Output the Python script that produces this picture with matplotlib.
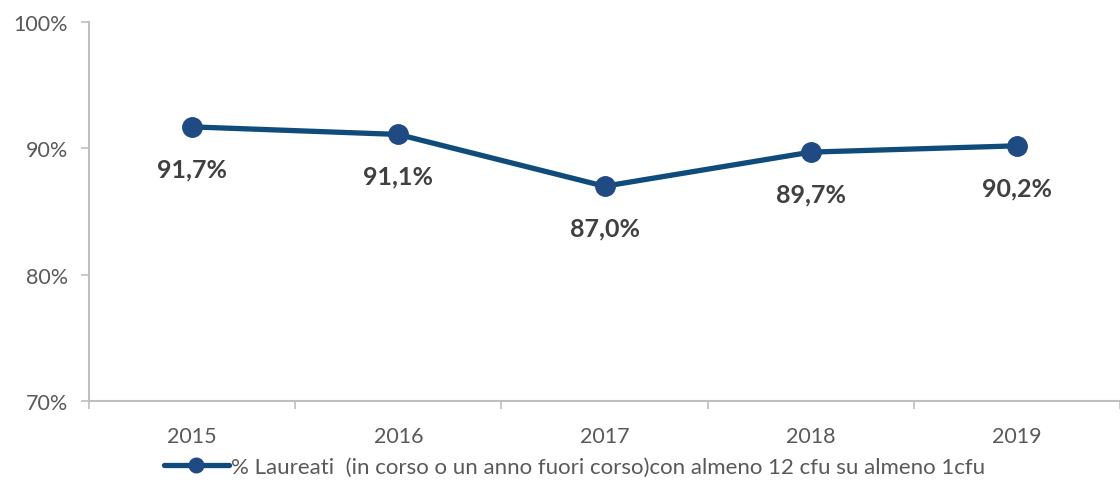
import matplotlib
matplotlib.use("Agg")
import matplotlib.pyplot as plt
from matplotlib.ticker import FixedLocator, PercentFormatter

# data
years = ["2015", "2016", "2017", "2018", "2019"]
values = [91.7, 91.1, 87.0, 89.7, 90.2]
labels = ["91,7%", "91,1%", "87,0%", "89,7%", "90,2%"]
series_name = "% Laureati  (in corso o un anno fuori corso)con almeno 12 cfu su almeno 1cfu"

plt.rcParams["font.family"] = ["Lato", "DejaVu Sans"]

fig = plt.figure(figsize=(11.2, 4.85), dpi=100)
ax = fig.add_axes([0.0795, 0.171, 0.9205, 0.7816])

x = list(range(len(years)))
ax.plot(x, values, color="#0F4C7C", linewidth=3.8, marker="o", markersize=14,
        markerfacecolor="#1F4A82", markeredgecolor="#1F4A82", label=series_name,
        solid_capstyle="round", zorder=3)

for xi, v, lab in zip(x, values, labels):
    ax.annotate(lab, (xi, v), xytext=(0, -30), textcoords="offset points",
                ha="center", va="center", fontsize=18, fontweight="bold",
                color="#404040")

ax.set_xlim(-0.5, len(years) - 0.5)
ax.set_ylim(70, 100)
ax.set_yticks([70, 80, 90, 100])
ax.yaxis.set_major_formatter(PercentFormatter(decimals=0))

ax.set_xticks(x)
ax.set_xticklabels(years)
ax.xaxis.set_minor_locator(FixedLocator([i - 0.5 for i in range(len(years) + 1)]))
ax.tick_params(axis="x", which="major", length=0, pad=18, labelsize=15.5, labelcolor="#595959")
ax.tick_params(axis="x", which="minor", length=6, width=1.2, color="#BFBFBF")
ax.tick_params(axis="y", length=6, width=1.2, color="#BFBFBF", pad=9,
               labelsize=15.5, labelcolor="#595959")

for s in ["top", "right"]:
    ax.spines[s].set_visible(False)
for s in ["left", "bottom"]:
    ax.spines[s].set_color("#BFBFBF")
    ax.spines[s].set_linewidth(1.5)

leg = fig.legend(loc="center", bbox_to_anchor=(0.513, 0.035), frameon=False,
                 fontsize=16, handlelength=2.9, handletextpad=0.1,
                 markerscale=0.75, labelcolor="#595959")

fig.savefig("out.png", dpi=100)
